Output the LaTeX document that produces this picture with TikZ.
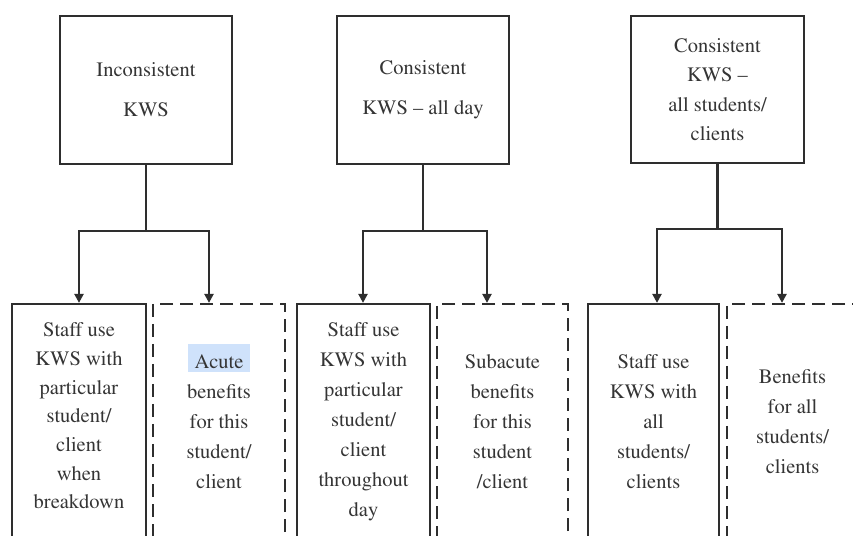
\documentclass[tikz,border=0pt]{standalone}
\usepackage[T1]{fontenc}
\usepackage{mathptmx}
\usetikzlibrary{arrows.meta}
\definecolor{ink}{HTML}{2E2E2E}
\definecolor{txt}{HTML}{353535}
\definecolor{hl}{HTML}{CFE2FB}
\begin{document}
\begin{tikzpicture}[x=1pt,y=1pt,
  topbox/.style={draw=ink,line width=2.2pt,minimum height=148pt,align=center,text=txt,inner sep=0pt},
  botbox/.style={draw=ink,line width=2.2pt,minimum height=236pt,align=center,text=txt,inner sep=0pt},
  dashbox/.style={botbox,dash pattern=on 13pt off 7pt},
  label/.style={align=center,text=txt,inner sep=0pt},
  conn/.style={draw=ink,line width=2.2pt},
  arr/.style={conn,-{Triangle[length=9pt,width=9pt]}},
  fa/.style={font=\fontsize{20.5}{40}\selectfont},
  fb/.style={font=\fontsize{20.5}{29.5}\selectfont},
  fd/.style={font=\fontsize{20.5}{28.7}\selectfont},
  fc/.style={font=\fontsize{20.5}{30}\selectfont}]
\useasboundingbox (0,0) rectangle (853,535);
\clip (0,0) rectangle (853,535);
\fill[white] (0,0) rectangle (853,535);
% highlight behind "Acute"
\fill[hl] (188,163) rectangle (250,191);
% top boxes
\node[topbox,fa,minimum width=172pt] (t1) at (146,445) {Inconsistent\\KWS};
\node[topbox,fa,minimum width=172pt] (t2) at (423,445) {Consistent\\KWS -- all day};
\node[topbox,fb,minimum width=173pt,minimum height=147pt] (t3) at (717.5,445.5) {Consistent\\KWS --\\all students/\\clients};
% bottom boxes
\node[botbox,minimum width=134pt] (b1) at (79,113) {};
\node[label,fd] (b1t) at (79,119) {Staff use\\KWS with\\particular\\student/\\client\\when\\breakdown};
\node[dashbox,fc,minimum width=132pt] (b2) at (219,113) {Acute\\benefits\\for this\\student/\\client};
\node[botbox,fc,minimum width=133pt] (b3) at (363.5,113) {Staff use\\KWS with\\particular\\student/\\client\\throughout\\day};
\node[dashbox,fc,minimum width=131pt] (b4) at (502.5,113) {Subacute\\benefits\\for this\\student\\/client};
\node[botbox,fc,minimum width=131pt] (b5) at (653.5,113) {Staff use\\KWS with\\all\\students/\\clients};
\node[dashbox,fc,minimum width=131pt] (b6) at (792.5,113) {Benefits\\for all\\students/\\clients};
% connectors
\coordinate (l1) at (79,304);  \coordinate (r1) at (209,304);
\coordinate (l2) at (363,304); \coordinate (r2) at (487,304);
\coordinate (l3) at (657,306); \coordinate (r3) at (782,306);
\draw[conn] (t1.south) -- (t1.south |- l1);
\draw[conn] (t2.south) -- (t2.south |- l2);
\draw[conn] (t3.south) -- (t3.south |- l3);
\draw[conn,line cap=rect] (l1) -- (r1);
\draw[conn,line cap=rect] (l2) -- (r2);
\draw[conn,line cap=rect] (l3) -- (r3);
\draw[arr] (l1) -- (l1 |- b1.north);
\draw[arr] (r1) -- (r1 |- b2.north);
\draw[arr] (l2) -- (l2 |- b3.north);
\draw[arr] (r2) -- (r2 |- b4.north);
\draw[arr] (l3) -- (l3 |- b5.north);
\draw[arr] (r3) -- (r3 |- b6.north);
\end{tikzpicture}
\end{document}
